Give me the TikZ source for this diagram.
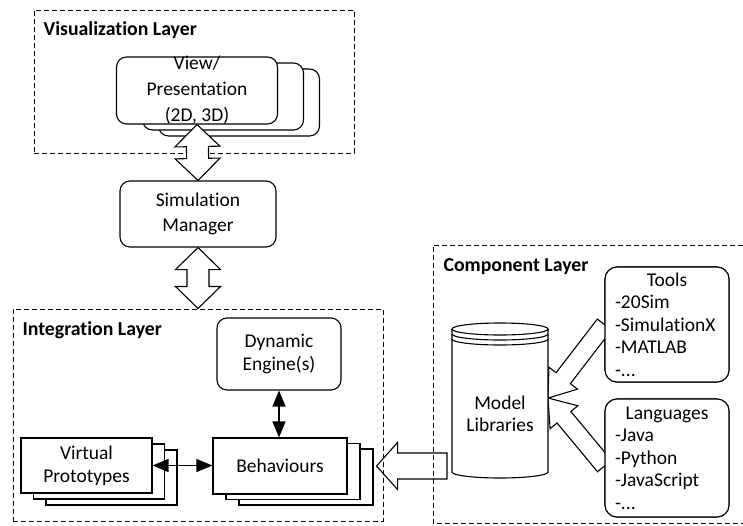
\documentclass[tikz,border=0pt]{standalone}
\usepackage{fontspec}
\setmainfont{Carlito}[Ligatures=NoCommon]
\usetikzlibrary{calc,arrows.meta}

\newcommand\bodyfont{\fontsize{19.5}{24}\selectfont}
\newcommand\listfont{\fontsize{19.5}{22.5}\selectfont}
\newcommand\headfont{\fontsize{19.8}{23}\selectfont\bfseries}

% outlined block arrow: [style] tail, tip, shaft half width, head half width, head length
\newcommand\blockarrow[6][]{%
  \path ($(#3)!#6!(#2)$) coordinate (ba-hb);
  \draw[barrow,#1] ($(#2)!#4!90:(#3)$) -- ($(ba-hb)!#4!90:(#3)$)
    -- ($(ba-hb)!#5!90:(#3)$) -- (#3) -- ($(ba-hb)!#5!-90:(#3)$)
    -- ($(ba-hb)!#4!-90:(#3)$) -- ($(#2)!#4!-90:(#3)$) -- cycle;}

% outlined double-headed block arrow: tip, tip, shaft half width, head half width, head length
\newcommand\dblockarrow[5]{%
  \path ($(#1)!#5!(#2)$) coordinate (ba-ha) ($(#2)!#5!(#1)$) coordinate (ba-hb);
  \draw[barrow] (#1) -- ($(ba-ha)!#4!90:(#2)$) -- ($(ba-ha)!#3!90:(#2)$)
    -- ($(ba-hb)!#3!90:(#2)$) -- ($(ba-hb)!#4!90:(#2)$) -- (#2)
    -- ($(ba-hb)!#4!-90:(#2)$) -- ($(ba-hb)!#3!-90:(#2)$)
    -- ($(ba-ha)!#3!-90:(#2)$) -- ($(ba-ha)!#4!-90:(#2)$) -- cycle;}

\begin{document}
\begin{tikzpicture}[x=1pt,y=-1pt,line width=1.1pt,
  layer/.style={draw, dash pattern=on 5pt off 3pt, line width=1pt, inner sep=0pt},
  rbox/.style={draw, fill=white, rounded corners=10pt, inner sep=0pt, align=center, font=\bodyfont},
  sbox/.style={draw, fill=white, inner sep=0pt, align=center, font=\bodyfont},
  lbox/.style={draw, fill=white, rounded corners=12pt, inner xsep=10pt, inner ysep=0pt,
    text width=104pt, align=left, font=\listfont},
  head/.style={font=\headfont, anchor=base west, inner sep=0pt},
  barrow/.style={draw, fill=white, line join=miter},
  link/.style={{Triangle[length=16pt,width=13pt]}-{Triangle[length=16pt,width=13pt]}, line width=1.3pt}]
\useasboundingbox (0,0) rectangle (743,525);

% layers
\node[layer, minimum width=320pt, minimum height=143pt] (vis) at (194,81.5) {};
\node[layer, minimum width=370pt, minimum height=212pt] (integ) at (198,415) {};
\draw[layer] (743,245) -- (433,245) -- (433,523) -- (743,523);
\node[head] (vish) at (43,35) {Visualization Layer};
\node[head] (integh) at (22,335.5) {Integration Layer};
\node[head] (comph) at (443,271.5) {Component Layer};

% visualization: stacked views
\node[rbox, minimum width=161pt, minimum height=67pt] (view3) at (239,102.5) {};
\node[rbox, minimum width=161pt, minimum height=67pt] (view2) at (223,96.5) {};
\node[rbox, minimum width=161pt, minimum height=67pt] (view) at (197,90.5) {};
\node[align=center, inner sep=0pt, font=\fontsize{19.5}{26}\selectfont] (viewt) at (view.center) {View/\\Presentation\\(2D, 3D)};

% simulation manager
\node[rbox, minimum width=156pt, minimum height=66pt, font=\fontsize{19.5}{25}\selectfont] (sim) at (198,214) {Simulation\\Manager};

% integration layer contents
\node[rbox, minimum width=124pt, minimum height=72pt, font=\fontsize{19.5}{23}\selectfont] (dyn) at (279,354) {Dynamic\\Engine(s)};
\node[sbox, minimum width=131pt, minimum height=55pt] (vp3) at (111.5,477.5) {};
\node[sbox, minimum width=131pt, minimum height=55pt] (vp2) at (99,471.5) {};
\node[sbox, minimum width=131pt, minimum height=55pt, font=\fontsize{19.5}{23}\selectfont] (vp) at (86.5,465.5) {Virtual\\Prototypes};
\node[sbox, minimum width=134pt, minimum height=56pt] (beh3) at (306,477) {};
\node[sbox, minimum width=134pt, minimum height=56pt] (beh2) at (293,471.5) {};
\node[sbox, minimum width=134pt, minimum height=56pt] (beh) at (280,466) {Behaviours};

\draw[link] (dyn.south) -- (dyn.south |- beh.north);
\draw[link] (vp.east) -- (vp.east -| beh.west);

% vertical exchange arrows
\coordinate (integtop) at (sim.south |- integ.north);
\dblockarrow{view.south}{sim.north}{11pt}{22.5pt}{22pt}
\dblockarrow{sim.south}{integtop}{11pt}{22.5pt}{22pt}

% component layer: tool and language feeds into the library
\node[lbox, minimum height=115pt] (tools) at (667,324.5) {\makebox[\linewidth]{Tools}\\-20Sim\\-SimulationX\\-MATLAB\\-...};
\node[lbox, minimum height=118pt] (lang) at (667,458) {\makebox[\linewidth]{Languages}\\-Java\\-Python\\-JavaScript\\-...};
\coordinate (libtip) at (548,398);
\coordinate (langtail) at ($(lang.west)+(0,8)$);
\blockarrow{tools.west}{libtip}{9pt}{18pt}{25pt}
\blockarrow{langtail}{libtip}{9pt}{18pt}{25pt}
% redraw the boxes over the arrow tails
\node[lbox, minimum height=115pt] at (tools) {\makebox[\linewidth]{Tools}\\-20Sim\\-SimulationX\\-MATLAB\\-...};
\node[lbox, minimum height=118pt] at (lang) {\makebox[\linewidth]{Languages}\\-Java\\-Python\\-JavaScript\\-...};

% model library cylinder
\draw[fill=white] (452,329) -- (452,472) arc[start angle=180, end angle=360, x radius=48pt, y radius=6pt] -- (548,329);
\draw[fill=white] (500,329) ellipse[x radius=48pt, y radius=6pt];
\draw (452,334) arc[start angle=180, end angle=360, x radius=48pt, y radius=6pt];
\draw (452,339) arc[start angle=180, end angle=360, x radius=48pt, y radius=6pt];
\node[align=center, inner sep=0pt, font=\fontsize{19.5}{22}\selectfont] (lib) at (500,414) {Model\\Libraries};

% library feeds the behaviours
\coordinate (libtail) at (447,466);
\coordinate (behtip) at ($(beh.east)+(29,0)$);
\blockarrow[fill=none]{libtail}{behtip}{13pt}{23.5pt}{21pt}
\end{tikzpicture}
\end{document}
